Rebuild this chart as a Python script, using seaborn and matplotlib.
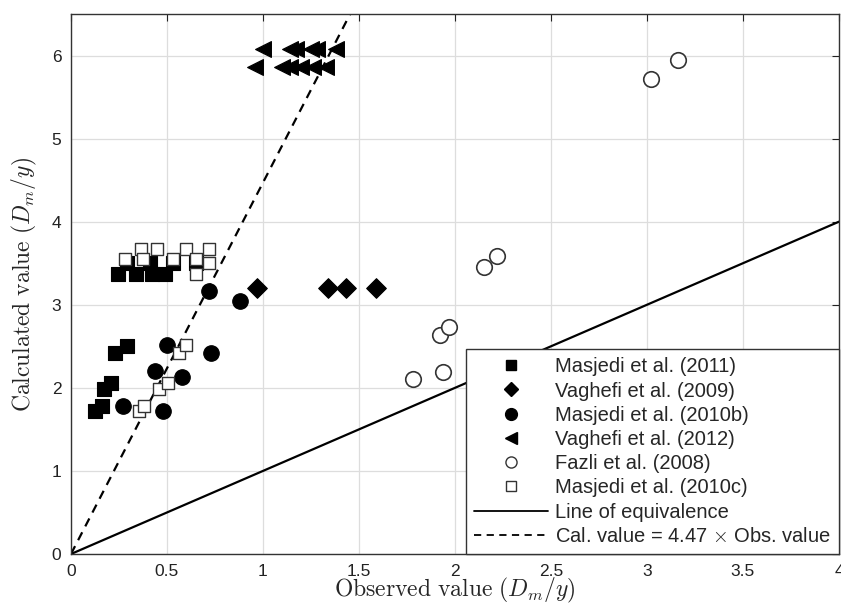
import numpy as np
import pandas as pd
import matplotlib
matplotlib.use("Agg")
import matplotlib.pyplot as plt
import seaborn as sns
from matplotlib.lines import Line2D

# ---- data ----
masjedi2011_x = [0.29, 0.41, 0.53, 0.65, 0.245, 0.34, 0.42, 0.49, 0.23, 0.29, 0.17, 0.21, 0.125, 0.16]
masjedi2011_y = [3.50, 3.50, 3.50, 3.50, 3.37, 3.37, 3.37, 3.37, 2.42, 2.50, 1.99, 2.06, 1.72, 1.78]

vaghefi2009_x = [0.97, 1.34, 1.43, 1.59]
vaghefi2009_y = [3.20, 3.20, 3.20, 3.20]

masjedi2010b_x = [0.72, 0.88, 0.50, 0.73, 0.44, 0.58, 0.27, 0.48]
masjedi2010b_y = [3.16, 3.04, 2.51, 2.42, 2.20, 2.13, 1.78, 1.72]

vaghefi2012_x = [1.00, 1.14, 1.17, 1.25, 1.28, 1.38, 0.96, 1.10, 1.14, 1.20, 1.26, 1.33]
vaghefi2012_y = [6.08, 6.08, 6.08, 6.08, 6.08, 6.08, 5.86, 5.86, 5.86, 5.86, 5.86, 5.86]

fazli2008_x = [1.78, 1.94, 1.92, 1.97, 2.15, 2.22, 3.02, 3.16]
fazli2008_y = [2.11, 2.19, 2.63, 2.73, 3.46, 3.59, 5.72, 5.94]

masjedi2010c_x = [0.365, 0.45, 0.60, 0.72, 0.28, 0.375, 0.53, 0.65, 0.72, 0.65, 0.355, 0.38, 0.46, 0.505, 0.56, 0.60]
masjedi2010c_y = [3.67, 3.67, 3.67, 3.67, 3.55, 3.55, 3.55, 3.55, 3.50, 3.37, 1.72, 1.78, 1.99, 2.06, 2.42, 2.51]

equiv_x = [0, 4]
equiv_y = [0, 4]
slope = 4.47
fit_x = [0, 1.5]

series_names = ["Masjedi et al. (2011)", "Vaghefi et al. (2009)", "Masjedi et al. (2010b)",
                "Vaghefi et al. (2012)", "Fazli et al. (2008)", "Masjedi et al. (2010c)"]
x_ticks = [0, 0.5, 1, 1.5, 2, 2.5, 3, 3.5, 4]
x_tick_labels = ["0", "0.5", "1", "1.5", "2", "2.5", "3", "3.5", "4"]
y_ticks = [0, 1, 2, 3, 4, 5, 6]

sns.set_style("white")
plt.rcParams["font.family"] = ["Liberation Sans", "DejaVu Sans"]
plt.rcParams["mathtext.fontset"] = "cm"

fig = plt.figure(figsize=(8.41, 6.07), dpi=100)
ax = fig.add_axes([0.0844, 0.0873, 0.9132, 0.8897])

styles = [
    (masjedi2011_x, masjedi2011_y, "s", "black", "black", 90, 0.8),
    (vaghefi2009_x, vaghefi2009_y, "D", "black", "black", 100, 0.8),
    (masjedi2010b_x, masjedi2010b_y, "o", "black", "black", 125, 0.8),
    (vaghefi2012_x, vaghefi2012_y, "<", "black", "black", 130, 0.8),
    (fazli2008_x, fazli2008_y, "o", "white", "#333333", 125, 1.2),
    (masjedi2010c_x, masjedi2010c_y, "s", "white", "#333333", 80, 1.0),
]

# lines
sns.lineplot(x=equiv_x, y=equiv_y, ax=ax, color="black", lw=1.6, zorder=2)
fit_y = [slope * v for v in fit_x]
sns.lineplot(x=fit_x, y=fit_y, ax=ax, color="black", lw=1.6, zorder=2, dashes=False,
             linestyle=(0, (4, 3)))

for (xs, ys, m, fc, ec, s, lw), name in zip(styles, series_names):
    df = pd.DataFrame({"x": xs, "y": ys})
    sns.scatterplot(data=df, x="x", y="y", ax=ax, marker=m, s=s, facecolor=fc,
                    edgecolor=ec, linewidth=lw, zorder=3)

ax.set_xlim(0, 4)
ax.set_ylim(0, 6.5)
ax.set_xticks(x_ticks)
ax.set_xticklabels(x_tick_labels)
ax.set_yticks(y_ticks)
ax.grid(True, color="#dddddd", lw=0.9)
ax.set_axisbelow(True)
ax.tick_params(direction="in", length=5, width=0.8, top=True, right=True,
               labelsize=12.5, colors="#222222", pad=7)
for sp in ax.spines.values():
    sp.set_visible(True)
    sp.set_color("#333333")
    sp.set_linewidth(1.0)

ax.set_xlabel(r"$\mathrm{Observed\ value}\ (D_m/y)$", fontsize=17, labelpad=-2)
ax.set_ylabel(r"$\mathrm{Calculated\ value}\ (D_m/y)$", fontsize=17, labelpad=9)

handles = [
    Line2D([], [], marker="s", ls="none", color="black", markersize=6.5),
    Line2D([], [], marker="D", ls="none", color="black", markersize=7),
    Line2D([], [], marker="o", ls="none", color="black", markersize=8.5),
    Line2D([], [], marker="<", ls="none", color="black", markersize=8.5),
    Line2D([], [], marker="o", ls="none", markerfacecolor="white", markeredgecolor="#333333", markersize=8),
    Line2D([], [], marker="s", ls="none", markerfacecolor="white", markeredgecolor="#333333", markersize=6.5),
    Line2D([], [], color="black", lw=1.3),
    Line2D([], [], color="black", lw=1.3, linestyle=(0, (4, 3))),
]
labels = series_names + ["Line of equivalence", "Cal. value = 4.47 $\\times$ Obs. value"]
leg = ax.legend(handles, labels, loc="lower right", borderaxespad=0, fontsize=14.5,
                handlelength=3.7, handletextpad=0.35, labelspacing=0.26, frameon=True,
                fancybox=False, edgecolor="#333333", framealpha=1, borderpad=0.4)
leg.get_frame().set_linewidth(1.0)

fig.savefig("out.png", dpi=100)
